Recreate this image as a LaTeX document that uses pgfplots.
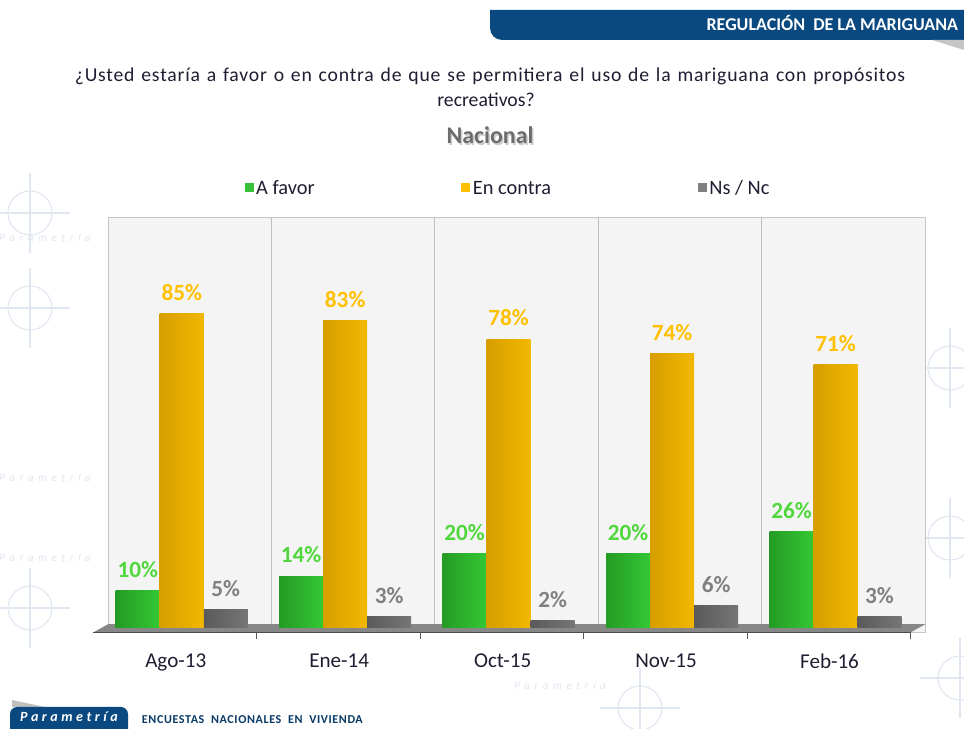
\documentclass[border=0pt]{standalone}
\usepackage{fontspec}
\setmainfont{Carlito}
\usepackage{pgfplots}
\pgfplotsset{compat=1.18}
\definecolor{navy}{RGB}{10,72,128}
\definecolor{titlecol}{RGB}{30,30,50}
\definecolor{greenM}{RGB}{72,230,72}
\definecolor{greenD}{RGB}{36,155,36}
\definecolor{greenR}{RGB}{52,200,52}
\definecolor{orangeM}{RGB}{255,210,0}
\definecolor{orangeD}{RGB}{215,158,0}
\definecolor{orangeR}{RGB}{242,184,0}
\definecolor{grayM}{RGB}{155,155,155}
\definecolor{grayD}{RGB}{90,90,90}
\definecolor{grayR}{RGB}{118,118,118}
\definecolor{greenLab}{RGB}{80,215,60}
\definecolor{orangeLab}{RGB}{255,192,0}
\definecolor{grayLab}{RGB}{128,128,128}
\definecolor{wall}{RGB}{244,244,244}
\definecolor{floorgray}{RGB}{135,135,135}
\definecolor{wm}{RGB}{225,231,240}
\pgfplotsset{
  greenbar/.style={draw=none, left color=greenD, middle color=greenM, right color=greenR,
    every node near coord/.append style={text=greenLab}, bar shift=-1.3cm, forget plot},
  orangebar/.style={draw=none, left color=orangeD, middle color=orangeM, right color=orangeR,
    every node near coord/.append style={text=orangeLab}, bar shift=-0.2cm, forget plot},
  graybar/.style={draw=none, left color=grayD, middle color=grayM, right color=grayR,
    every node near coord/.append style={text=grayLab}, bar shift=0.9cm, forget plot},
}
\begin{document}
\begin{tikzpicture}
\begin{scope}[x=0.025cm,y=0.025cm]
\useasboundingbox (0,0) rectangle (964,728);
% faint watermark motifs
\begin{scope}[wm, line width=0.8pt]
\foreach \cx/\cy in {30/420, 30/120, 30/515, 950/360, 950/190, 640/20, 960/50}{
  \draw (\cx,\cy) circle (22);
  \draw (\cx-40,\cy) -- (\cx+40,\cy);
  \draw (\cx,\cy-40) -- (\cx,\cy+40);
}
\end{scope}
\foreach \tx/\ty in {45/490, 45/250, 45/170, 560/42}{
  \node[text=wm, font=\itshape\fontsize{8}{9}\selectfont\addfontfeatures{LetterSpace=40}] at (\tx,\ty) {Parametría};
}
% header band
\fill[navy] (964,718) -- (490,718) -- (490,700) arc[start angle=180,end angle=270,radius=12] -- (964,688) -- cycle;
\fill[gray!45] (932,688) -- (964,688) -- (964,678) -- cycle;
\node[anchor=base east, text=white, font=\bfseries\fontsize{12.8}{14}\selectfont] at (963,728-31) {REGULACIÓN\ \ DE LA MARIGUANA};
% title
\node[anchor=base, text=titlecol, font=\fontsize{14}{17}\selectfont\addfontfeatures{LetterSpace=4}, inner sep=0pt] at (490,728-82) {\makebox[20.75cm][s]{¿Usted estaría a favor o en contra de que se permitiera el uso de la mariguana con propósitos}};
\node[anchor=base, text=titlecol, font=\fontsize{14}{17}\selectfont] at (486,728-107) {recreativos?};
\node[anchor=base, text=gray!40, font=\bfseries\fontsize{17}{20}\selectfont] at (491.5,728-145.5) {Nacional};
\node[anchor=base, text=gray!85!black, font=\bfseries\fontsize{17}{20}\selectfont] at (490,728-144) {Nacional};
% footer
\fill[gray!50] (12,728-700) -- (45,728-707) -- (12,728-707) -- cycle;
\fill[navy, rounded corners=5] (10,-10) rectangle (128,728-707);
\node[anchor=base, text=white, font=\bfseries\itshape\fontsize{10}{12}\selectfont\addfontfeatures{LetterSpace=25}] at (69,728-722) {Parametría};
\node[anchor=base west, text=navy!80!black, font=\bfseries\fontsize{8.6}{10}\selectfont\addfontfeatures{LetterSpace=5}] at (137,728-723) {ENCUESTAS\ \ NACIONALES\ \ EN\ \ VIVIENDA};
\end{scope}
\begin{axis}[
  at={(2.7cm,2.39cm)}, anchor=south west, scale only axis,
  width=20.425cm, height=10.385cm,
  xmin=-0.5, xmax=4.5, ymin=-1.2, ymax=111,
  ybar=0pt, bar width=1.1cm,
  axis background/.style={fill=wall},
  axis line style={gray!45},
  ytick=\empty,
  xtick={0,1,2,3,4},
  xticklabels={Ago-13,Ene-14,Oct-15,Nov-15,Feb-16},
  xtick pos=bottom,
  major tick length=0pt,
  minor xtick={0.5,1.5,2.5,3.5},
  xminorgrids=true,
  minor grid style={gray!50, line width=0.8pt},
  minor tick length=0pt,
  extra x ticks={-0.59,0.41,1.41,2.41,3.41,4.41},
  extra x tick labels={},
  extra x tick style={grid=none, major tick length=5pt, tick align=outside, tick style={gray!70!black, line width=0.8pt}},
  xticklabel style={font=\fontsize{15}{18}\selectfont, text=titlecol, xshift=-0.35cm, yshift=-0.42cm},
  clip=false,
  legend style={at={(0.49,1.072)}, anchor=center, draw=none, fill=none,
    legend columns=3, font=\fontsize{14.5}{17}\selectfont, text=titlecol,
    /tikz/every even column/.append style={column sep=3.6cm}},
  nodes near coords={\pgfmathprintnumber{\pgfplotspointmeta}\%},
  every node near coord/.append style={font=\bfseries\fontsize{16.5}{19}\selectfont, inner sep=0pt, yshift=9pt},
  /pgf/number format/assume math mode=true,
]
\fill[floorgray] (axis cs:-0.5,1.0) -- (axis cs:4.5,1.0) -- (axis cs:4.41,-1.2) -- (axis cs:-0.59,-1.2) -- cycle;
% A favor
\addplot[greenbar] coordinates {(0,10)};
\addplot[greenbar] coordinates {(1,14)};
\addplot[greenbar] coordinates {(2,20)};
\addplot[greenbar] coordinates {(3,20)};
\addplot[greenbar] coordinates {(4,26)};
% En contra
\addplot[orangebar] coordinates {(0,85)};
\addplot[orangebar] coordinates {(1,83)};
\addplot[orangebar] coordinates {(2,78)};
\addplot[orangebar] coordinates {(3,74)};
\addplot[orangebar] coordinates {(4,71)};
% Ns / Nc
\addplot[graybar] coordinates {(0,5)};
\addplot[graybar] coordinates {(1,3)};
\addplot[graybar] coordinates {(2,2)};
\addplot[graybar] coordinates {(3,6)};
\addplot[graybar] coordinates {(4,3)};
\addlegendimage{legend image code/.code={\fill[greenD!50!greenM] (0cm,-0.1cm) rectangle (0.2cm,0.1cm);}}
\addlegendentry{\strut A favor}
\addlegendimage{legend image code/.code={\fill[orangeLab] (0cm,-0.1cm) rectangle (0.2cm,0.1cm);}}
\addlegendentry{\strut En contra}
\addlegendimage{legend image code/.code={\fill[grayLab] (0cm,-0.1cm) rectangle (0.2cm,0.1cm);}}
\addlegendentry{\strut Ns / Nc}
\draw[gray!60!black, line width=0.8pt] (axis cs:-0.59,-1.2) -- (axis cs:4.41,-1.2);
\end{axis}
\end{tikzpicture}
\end{document}
